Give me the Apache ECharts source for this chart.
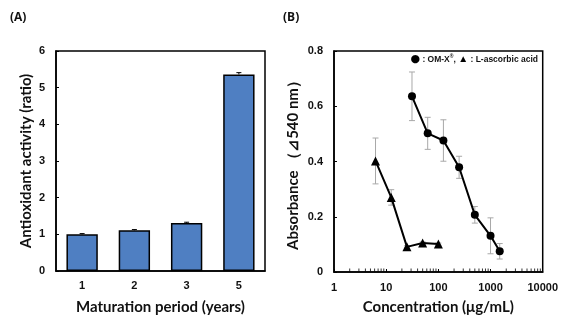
<!DOCTYPE html>
<html><head><meta charset="utf-8">
<script src="https://cdn.jsdelivr.net/npm/echarts@6/dist/echarts.min.js"></script>
<style>html,body{margin:0;padding:0;background:#fff}#c{width:561px;height:320px}</style>
</head><body><div id="c"></div>
<script>
// Panel A data
const years = ['1', '2', '3', '5'];
const activity = [1.00, 1.11, 1.31, 5.36];
const activityErr = [0.02, 0.02, 0.02, 0.05];
const yTicksA = [0, 1, 2, 3, 4, 5, 6];

// Panel B data
const omxConc = [31.25, 62.5, 125, 250, 500, 1000, 1500];
const omxAbs = [0.636, 0.502, 0.476, 0.379, 0.207, 0.131, 0.075];
const omxErr = [0.088, 0.058, 0.075, 0.040, 0.030, 0.065, 0.028];
const ascConc = [6.25, 12.5, 25, 50, 100];
const ascAbs = [0.402, 0.270, 0.091, 0.105, 0.101];
const ascErr = [0.083, 0.028, 0.004, 0.004, 0.004];
const xTicksB = [1, 10, 100, 1000, 10000];
const minorMultipliers = [2, 3, 4, 5, 6, 7, 8, 9];

const minorTicks = [];
xTicksB.slice(0, -1).forEach(d => minorMultipliers.forEach(m => minorTicks.push([d * m, 0])));

const FONT = 'Lato';
const TICKF = 'Liberation Sans';

function errItem(color, capW, upOnly) {
  return function (params, api) {
    const x = api.value(0), y = api.value(1), e = api.value(2);
    const top = api.coord([x, y + e]);
    const bot = api.coord(upOnly ? [x, y] : [x, y - e]);
    const style = { stroke: color, lineWidth: 1 };
    const children = [
      { type: 'line', shape: { x1: top[0], y1: top[1], x2: bot[0], y2: bot[1] }, style },
      { type: 'line', shape: { x1: top[0] - capW / 2, y1: top[1], x2: top[0] + capW / 2, y2: top[1] }, style }
    ];
    if (!upOnly) children.push({ type: 'line', shape: { x1: bot[0] - capW / 2, y1: bot[1], x2: bot[0] + capW / 2, y2: bot[1] }, style });
    return { type: 'group', children };
  };
}

const axisLine = { show: true, lineStyle: { color: '#000', width: 1.5 } };
const tickLabel = { fontFamily: TICKF, fontWeight: 'bold', fontSize: 11, color: '#111' };
const nameStyle = { fontFamily: FONT, fontWeight: 'bold', fontSize: 15, color: '#111' };
const panelTitle = { fontFamily: 'Open Sans', fontWeight: 'bold', fontSize: 12, color: '#111' };

const chart = echarts.init(document.getElementById('c'), null, { renderer: 'canvas' });
chart.setOption({
  animation: false,
  backgroundColor: '#fff',
  title: [
    { text: '(A)', left: 5, top: 7, textStyle: panelTitle },
    { text: '(B)', left: 278, top: 7, textStyle: panelTitle }
  ],
  graphic: [{
    type: 'text', right: 23, top: 54,
    style: {
      text: '{c|●} : OM-X{s|®}, {t|▲} : L-ascorbic acid',
      fontFamily: TICKF, fontWeight: 'bold', fontSize: 8.5, fill: '#111',
      rich: {
        c: { fontSize: 11, fontFamily: 'DejaVu Sans', fill: '#000' },
        t: { fontSize: 10, fontFamily: TICKF, fill: '#000' },
        s: { fontSize: 5, fontFamily: TICKF, fontWeight: 'bold', verticalAlign: 'top', padding: [0, 0, 4, 0] }
      }
    }
  }],
  grid: [
    { left: 56, right: 296, top: 51, bottom: 44, show: true, borderColor: '#000', borderWidth: 1.5 },
    { left: 334, right: 16, top: 51, bottom: 45, show: true, borderColor: '#000', borderWidth: 1.5 }
  ],
  xAxis: [
    {
      type: 'category', gridIndex: 0, data: years,
      axisLine, axisTick: { show: false },
      axisLabel: Object.assign({ margin: 9 }, tickLabel),
      name: 'Maturation period (years)', nameLocation: 'middle', nameGap: 29, nameTextStyle: nameStyle
    },
    {
      type: 'log', gridIndex: 1, min: 1, max: 10000, logBase: 10,
      axisLine, axisTick: { show: true, inside: true, length: 3, lineStyle: { color: '#000' } },
      splitLine: { show: false },
      axisLabel: Object.assign({ margin: 10, formatter: v => xTicksB.includes(v) ? String(v) : '' }, tickLabel),
      name: 'Concentration (μg/mL)', nameLocation: 'middle', nameGap: 28, nameTextStyle: nameStyle
    }
  ],
  yAxis: [
    {
      type: 'value', gridIndex: 0, min: yTicksA[0], max: yTicksA[yTicksA.length - 1], interval: 1,
      axisLine, axisTick: { show: true, inside: true, length: 3, lineStyle: { color: '#000' } },
      splitLine: { show: false },
      axisLabel: Object.assign({ margin: 11 }, tickLabel),
      name: 'Antioxidant activity (ratio)', nameLocation: 'middle', nameGap: 22, nameTextStyle: nameStyle
    },
    {
      type: 'value', gridIndex: 1, min: 0, max: 0.8, interval: 0.2,
      axisLine, axisTick: { show: true, inside: true, length: 3, lineStyle: { color: '#000' } },
      splitLine: { show: false },
      axisLabel: Object.assign({ margin: 11, formatter: v => v === 0 ? '0' : v.toFixed(1) }, tickLabel),
      name: 'Absorbance （⊿540 nm）', nameLocation: 'middle', nameGap: 33, nameTextStyle: nameStyle
    }
  ],
  series: [
    {
      type: 'bar', xAxisIndex: 0, yAxisIndex: 0, data: activity, barWidth: '60%',
      itemStyle: { color: '#4F7FC2', borderColor: '#000', borderWidth: 1.5 }
    },
    {
      type: 'custom', xAxisIndex: 0, yAxisIndex: 0, z: 5,
      data: activity.map((v, i) => [i, v, activityErr[i]]),
      renderItem: errItem('#000', 5, true)
    },
    {
      type: 'custom', xAxisIndex: 1, yAxisIndex: 1, z: 1,
      data: omxConc.map((c, i) => [c, omxAbs[i], omxErr[i]]),
      renderItem: errItem('#a8a8a8', 6, false)
    },
    {
      type: 'custom', xAxisIndex: 1, yAxisIndex: 1, z: 1,
      data: ascConc.map((c, i) => [c, ascAbs[i], ascErr[i]]),
      renderItem: errItem('#a8a8a8', 6, false)
    },
    {
      type: 'line', xAxisIndex: 1, yAxisIndex: 1, z: 3,
      data: omxConc.map((c, i) => [c, omxAbs[i]]),
      symbol: 'circle', symbolSize: 8,
      lineStyle: { color: '#000', width: 2 }, itemStyle: { color: '#000' }
    },
    {
      type: 'line', xAxisIndex: 1, yAxisIndex: 1, z: 3,
      data: ascConc.map((c, i) => [c, ascAbs[i]]),
      symbol: 'triangle', symbolSize: 9,
      lineStyle: { color: '#000', width: 2 }, itemStyle: { color: '#000' }
    },
    {
      type: 'scatter', xAxisIndex: 1, yAxisIndex: 1, z: 4, silent: true,
      data: minorTicks, symbol: 'rect', symbolSize: [1, 3], symbolOffset: [0, -2],
      itemStyle: { color: '#000' }
    }
  ]
});
</script></body></html>
